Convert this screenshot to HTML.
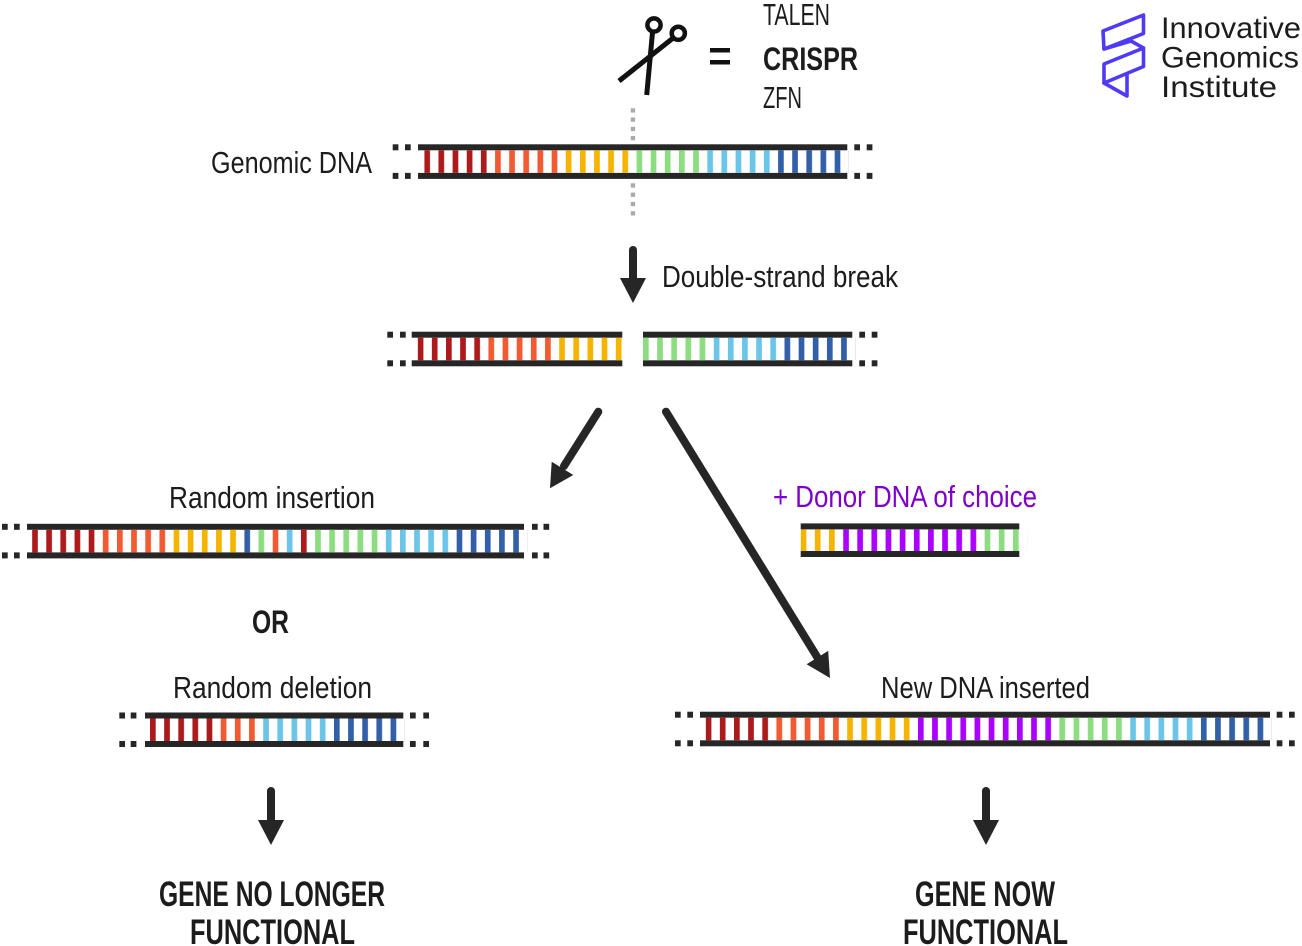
<!DOCTYPE html>
<html><head><meta charset="utf-8"><style>
html,body{margin:0;padding:0;background:#fff;}
svg{display:block;}
.t{font-family:"Liberation Sans Narrow","Liberation Sans",sans-serif;fill:#1c1c1c;}
.b{font-weight:bold;}
</style></head><body>
<svg width="1302" height="946" viewBox="0 0 1302 946" xmlns="http://www.w3.org/2000/svg">
<defs>
<pattern id="pR" patternUnits="userSpaceOnUse" width="14.15" height="40"><rect width="5.7" height="40" fill="#AC1A1B"/></pattern>
<pattern id="pO" patternUnits="userSpaceOnUse" width="14.15" height="40"><rect width="5.7" height="40" fill="#F25A32"/></pattern>
<pattern id="pY" patternUnits="userSpaceOnUse" width="14.15" height="40"><rect width="5.7" height="40" fill="#F5B400"/></pattern>
<pattern id="pG" patternUnits="userSpaceOnUse" width="14.15" height="40"><rect width="5.7" height="40" fill="#8BDD80"/></pattern>
<pattern id="pL" patternUnits="userSpaceOnUse" width="14.15" height="40"><rect width="5.7" height="40" fill="#6BC5E8"/></pattern>
<pattern id="pB" patternUnits="userSpaceOnUse" width="14.15" height="40"><rect width="5.7" height="40" fill="#3160A8"/></pattern>
<pattern id="pP" patternUnits="userSpaceOnUse" width="14.15" height="40"><rect width="5.7" height="40" fill="#AA00FF"/></pattern>
</defs>

<!-- Scissors -->
<g fill="none" stroke="#111" stroke-width="4.5">
<circle cx="654" cy="25" r="6.6"/>
<circle cx="678.3" cy="33.3" r="6.6"/>
</g>
<g stroke="#111" stroke-width="5">
<line x1="652.6" y1="31.5" x2="646.7" y2="95"/>
<line x1="672.5" y1="38.5" x2="619" y2="81"/>
</g>
<rect x="710" y="48" width="20" height="4.5" fill="#111"/>
<rect x="710" y="60" width="20" height="4.5" fill="#111"/>
<text class="t" x="763" y="25" font-size="31" textLength="67" lengthAdjust="spacingAndGlyphs">TALEN</text>
<text class="t b" x="763" y="70" font-size="32" textLength="95" lengthAdjust="spacingAndGlyphs">CRISPR</text>
<text class="t" x="763" y="108" font-size="31" textLength="39" lengthAdjust="spacingAndGlyphs">ZFN</text>

<!-- gray dotted cut line -->
<g fill="#aaaaaa">
<rect x="630.8" y="108.3" width="4.3" height="4.3"/>
<rect x="630.8" y="117.5" width="4.3" height="4.3"/>
<rect x="630.8" y="126.8" width="4.3" height="4.3"/>
<rect x="630.8" y="136" width="4.3" height="4.3"/>
<rect x="630.8" y="183.3" width="4.3" height="4.3"/>
<rect x="630.8" y="192.6" width="4.3" height="4.3"/>
<rect x="630.8" y="201.9" width="4.3" height="4.3"/>
<rect x="630.8" y="211.2" width="4.3" height="4.3"/>
</g>

<!-- Logo -->
<g fill="none" stroke="#4F3BF6" stroke-width="3.6" stroke-linejoin="round" stroke-linecap="round">
<path d="M1103,31 L1143.5,15 L1143.5,33.5 L1104,49 Z"/>
<path d="M1104,49 L1131,41 L1143.5,48"/>
<path d="M1104,64 L1143.5,48 L1143.5,66.5 L1104,83 Z"/>
<path d="M1104,83 L1127,96 L1127,74"/>
</g>
<text class="t" x="1161" y="38" font-size="30" textLength="140" lengthAdjust="spacingAndGlyphs" style="font-family:'Liberation Sans',sans-serif">Innovative</text>
<text class="t" x="1161" y="67.5" font-size="30" textLength="138" lengthAdjust="spacingAndGlyphs" style="font-family:'Liberation Sans',sans-serif">Genomics</text>
<text class="t" x="1161" y="97" font-size="30" textLength="116" lengthAdjust="spacingAndGlyphs" style="font-family:'Liberation Sans',sans-serif">Institute</text>

<!-- Genomic DNA -->
<text class="t" x="211" y="173" font-size="31" textLength="161" lengthAdjust="spacingAndGlyphs">Genomic DNA</text>
<g fill="#262626">
<rect x="418" y="144.3" width="429.3" height="6"/>
<rect x="418" y="172.9" width="429.3" height="6"/>
<rect x="392.7" y="144.3" width="5.7" height="6"/><rect x="405" y="144.3" width="5.7" height="6"/>
<rect x="392.7" y="172.9" width="5.7" height="6"/><rect x="405" y="172.9" width="5.7" height="6"/>
<rect x="854.3" y="144.3" width="5.7" height="6"/><rect x="866.7" y="144.3" width="5.7" height="6"/>
<rect x="854.3" y="172.9" width="5.7" height="6"/><rect x="866.7" y="172.9" width="5.7" height="6"/>
</g>
<g transform="translate(424.3,150.3)">
<rect x="0" width="70.75" height="22.6" fill="url(#pR)"/>
<rect x="70.75" width="70.75" height="22.6" fill="url(#pO)"/>
<rect x="141.5" width="70.75" height="22.6" fill="url(#pY)"/>
<rect x="212.25" width="70.75" height="22.6" fill="url(#pG)"/>
<rect x="283" width="70.75" height="22.6" fill="url(#pL)"/>
<rect x="353.75" width="70.75" height="22.6" fill="url(#pB)"/>
</g>

<!-- DSB arrow -->
<line x1="633" y1="250" x2="633" y2="282" stroke="#262626" stroke-width="8" stroke-linecap="round"/>
<polygon points="620,278 646,278 633,303" fill="#262626"/>
<text class="t" x="662" y="287" font-size="31" textLength="236" lengthAdjust="spacingAndGlyphs">Double-strand break</text>

<!-- Broken strand -->
<g fill="#262626">
<rect x="411.7" y="331.7" width="210.6" height="6"/>
<rect x="411.7" y="360.3" width="210.6" height="6"/>
<rect x="643" y="331.7" width="209.3" height="6"/>
<rect x="643" y="360.3" width="209.3" height="6"/>
<rect x="387.3" y="331.7" width="5.7" height="6"/><rect x="400" y="331.7" width="5.7" height="6"/>
<rect x="387.3" y="360.3" width="5.7" height="6"/><rect x="400" y="360.3" width="5.7" height="6"/>
<rect x="859.3" y="331.7" width="5.7" height="6"/><rect x="871.7" y="331.7" width="5.7" height="6"/>
<rect x="859.3" y="360.3" width="5.7" height="6"/><rect x="871.7" y="360.3" width="5.7" height="6"/>
</g>
<g transform="translate(417.7,337.7)">
<rect x="0" width="70.75" height="22.6" fill="url(#pR)"/>
<rect x="70.75" width="70.75" height="22.6" fill="url(#pO)"/>
<rect x="141.5" width="70.75" height="22.6" fill="url(#pY)"/>
</g>
<g transform="translate(643,337.7)">
<rect x="0" width="70.75" height="22.6" fill="url(#pG)"/>
<rect x="70.75" width="70.75" height="22.6" fill="url(#pL)"/>
<rect x="141.5" width="70.75" height="22.6" fill="url(#pB)"/>
</g>

<!-- Diagonal arrows -->
<line x1="598.3" y1="411.7" x2="564" y2="466" stroke="#262626" stroke-width="8" stroke-linecap="round"/>
<polygon points="550,488.3 551.7,461.7 573.3,475" fill="#262626"/>
<line x1="666" y1="411.7" x2="819" y2="660" stroke="#262626" stroke-width="8" stroke-linecap="round"/>
<polygon points="830,678 828.2,650.9 806.6,664.2" fill="#262626"/>

<!-- Random insertion -->
<text class="t" x="169" y="508" font-size="31" textLength="206" lengthAdjust="spacingAndGlyphs">Random insertion</text>
<g fill="#262626">
<rect x="27" y="523.8" width="497" height="6"/>
<rect x="27" y="552.4" width="497" height="6"/>
<rect x="2" y="523.8" width="5.7" height="6"/><rect x="14" y="523.8" width="5.7" height="6"/>
<rect x="2" y="552.4" width="5.7" height="6"/><rect x="14" y="552.4" width="5.7" height="6"/>
<rect x="532" y="523.8" width="5.7" height="6"/><rect x="543.5" y="523.8" width="5.7" height="6"/>
<rect x="532" y="552.4" width="5.7" height="6"/><rect x="543.5" y="552.4" width="5.7" height="6"/>
</g>
<g transform="translate(32.1,529.8)">
<rect x="0" width="70.75" height="22.6" fill="url(#pR)"/>
<rect x="70.75" width="70.75" height="22.6" fill="url(#pO)"/>
<rect x="141.5" width="70.75" height="22.6" fill="url(#pY)"/>
<rect x="212.25" width="14.15" height="22.6" fill="url(#pB)"/>
<rect x="226.4" width="14.15" height="22.6" fill="url(#pG)"/>
<rect x="240.55" width="14.15" height="22.6" fill="url(#pO)"/>
<rect x="254.7" width="14.15" height="22.6" fill="url(#pL)"/>
<rect x="268.85" width="14.15" height="22.6" fill="url(#pR)"/>
<rect x="283" width="70.75" height="22.6" fill="url(#pG)"/>
<rect x="353.75" width="70.75" height="22.6" fill="url(#pL)"/>
<rect x="424.5" width="70.75" height="22.6" fill="url(#pB)"/>
</g>

<!-- Donor DNA -->
<text class="t" x="773" y="507" font-size="31" textLength="264" lengthAdjust="spacingAndGlyphs" style="fill:#7E00C8">+ Donor DNA of choice</text>
<g fill="#262626">
<rect x="800.7" y="523.4" width="218.6" height="6"/>
<rect x="800.7" y="551" width="218.6" height="6"/>
</g>
<g transform="translate(800.7,529.4)">
<rect x="0" width="42.45" height="21.6" fill="url(#pY)"/>
<rect x="42.45" width="141.5" height="21.6" fill="url(#pP)"/>
<rect x="183.95" width="42.45" height="21.6" fill="url(#pG)"/>
</g>

<!-- OR -->
<text class="t b" x="252" y="633" font-size="32" textLength="37" lengthAdjust="spacingAndGlyphs">OR</text>

<!-- Random deletion -->
<text class="t" x="173" y="698" font-size="31" textLength="199" lengthAdjust="spacingAndGlyphs">Random deletion</text>
<g fill="#262626">
<rect x="145" y="712.5" width="258.3" height="6"/>
<rect x="145" y="741" width="258.3" height="6"/>
<rect x="119.3" y="712.5" width="5.7" height="6"/><rect x="130.7" y="712.5" width="5.7" height="6"/>
<rect x="119.3" y="741" width="5.7" height="6"/><rect x="130.7" y="741" width="5.7" height="6"/>
<rect x="410" y="712.5" width="5.7" height="6"/><rect x="423.3" y="712.5" width="5.7" height="6"/>
<rect x="410" y="741" width="5.7" height="6"/><rect x="423.3" y="741" width="5.7" height="6"/>
</g>
<g transform="translate(150,718.5)">
<rect x="0" width="70.75" height="22.5" fill="url(#pR)"/>
<rect x="70.75" width="42.45" height="22.5" fill="url(#pO)"/>
<rect x="113.2" width="70.75" height="22.5" fill="url(#pL)"/>
<rect x="183.95" width="70.75" height="22.5" fill="url(#pB)"/>
</g>

<!-- New DNA inserted -->
<text class="t" x="881" y="698" font-size="31" textLength="209" lengthAdjust="spacingAndGlyphs">New DNA inserted</text>
<g fill="#262626">
<rect x="700" y="711.7" width="570" height="6"/>
<rect x="700" y="740.3" width="570" height="6"/>
<rect x="675" y="711.7" width="5.7" height="6"/><rect x="687.3" y="711.7" width="5.7" height="6"/>
<rect x="675" y="740.3" width="5.7" height="6"/><rect x="687.3" y="740.3" width="5.7" height="6"/>
<rect x="1276.7" y="711.7" width="5.7" height="6"/><rect x="1289" y="711.7" width="5.7" height="6"/>
<rect x="1276.7" y="740.3" width="5.7" height="6"/><rect x="1289" y="740.3" width="5.7" height="6"/>
</g>
<g transform="translate(705.7,717.7)">
<rect x="0" width="70.75" height="22.6" fill="url(#pR)"/>
<rect x="70.75" width="70.75" height="22.6" fill="url(#pO)"/>
<rect x="141.5" width="70.75" height="22.6" fill="url(#pY)"/>
<rect x="212.25" width="141.5" height="22.6" fill="url(#pP)"/>
<rect x="353.75" width="70.75" height="22.6" fill="url(#pG)"/>
<rect x="424.5" width="70.75" height="22.6" fill="url(#pL)"/>
<rect x="495.25" width="70.75" height="22.6" fill="url(#pB)"/>
</g>

<!-- bottom arrows -->
<line x1="271" y1="791" x2="271" y2="823" stroke="#262626" stroke-width="8" stroke-linecap="round"/>
<polygon points="258,820 284,820 271,845" fill="#262626"/>
<line x1="986" y1="791" x2="986" y2="823" stroke="#262626" stroke-width="8" stroke-linecap="round"/>
<polygon points="973,820 999,820 986,845" fill="#262626"/>

<!-- conclusions -->
<text class="t b" x="159" y="906" font-size="35" textLength="226" lengthAdjust="spacingAndGlyphs">GENE NO LONGER</text>
<text class="t b" x="190" y="944" font-size="35" textLength="165" lengthAdjust="spacingAndGlyphs">FUNCTIONAL</text>
<text class="t b" x="915" y="906" font-size="35" textLength="140" lengthAdjust="spacingAndGlyphs">GENE NOW</text>
<text class="t b" x="903" y="944" font-size="35" textLength="165" lengthAdjust="spacingAndGlyphs">FUNCTIONAL</text>
</svg>
</body></html>
